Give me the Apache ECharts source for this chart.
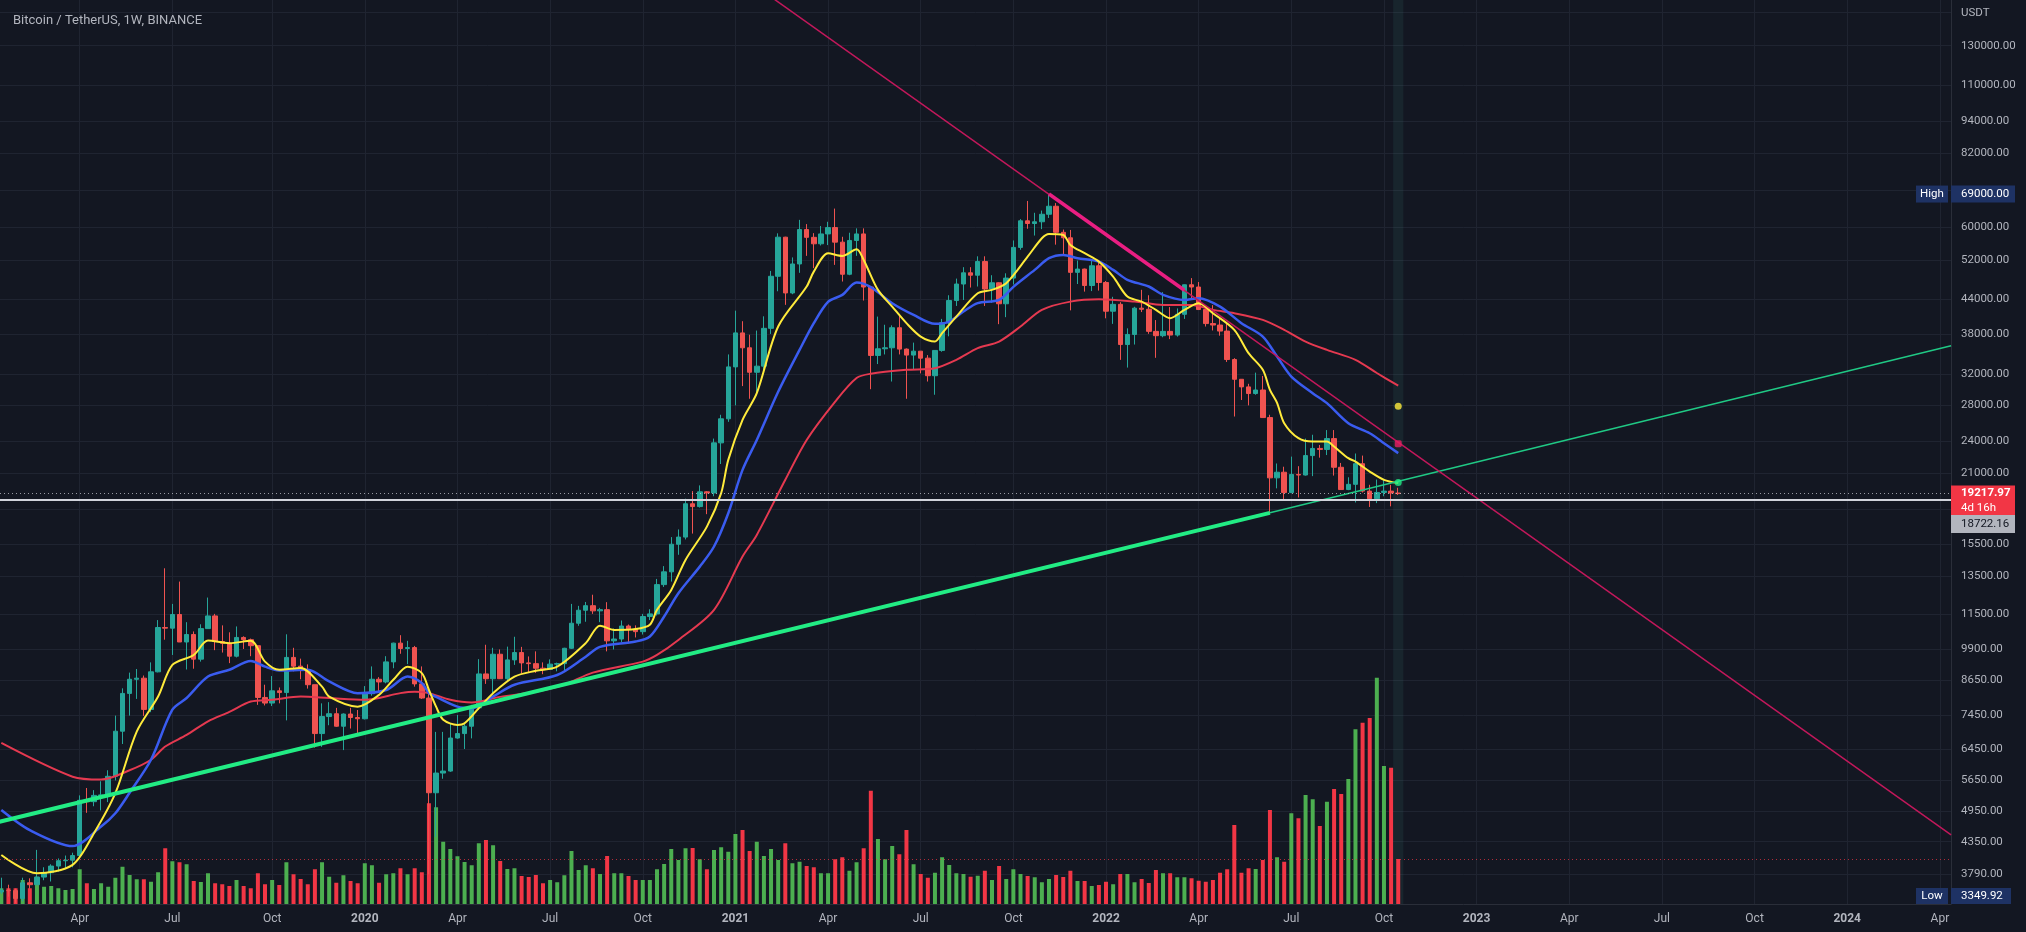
<!DOCTYPE html>
<html>
<head>
<meta charset="utf-8">
<title>Bitcoin / TetherUS, 1W, BINANCE</title>
<script src="https://cdn.jsdelivr.net/npm/echarts@6/dist/echarts.min.js"></script>
<style>
  html, body { margin: 0; padding: 0; background: #131722; }
  #chart { width: 2026px; height: 932px; }
</style>
</head>
<body>
<div id="chart"></div>
<script>
// weekly bars, first one opens on this Monday
const firstWeek = '2019-01-14';

// [open, high, low, close]
const ohlc2019 = [
  [3510,3730,3480,3535],[3535,3620,3440,3530],[3530,3560,3350,3414],[3414,3730,3373,3650],
  [3650,3720,3560,3620],[3620,4200,3620,3740],[3740,3900,3690,3810],[3810,3950,3670,3920],
  [3920,4050,3830,4010],[4010,4100,3880,4020],[4020,4150,3900,4100],[4100,5300,4080,5190],
  [5190,5470,4920,5160],[5160,5420,5060,5300],[5300,5630,4970,5310],[5310,5900,5150,5750],
  [5750,7450,5650,6970],[6970,8370,6600,8190],[8190,8950,7450,8700],[8700,9090,8000,8740],
  [8740,8840,7440,7650],[7650,9350,7560,8980],[8980,11200,8960,10850],[10850,13970,10300,10820],
  [10820,12000,9650,11470],[11470,13200,10370,10200],[10200,11100,9070,10530],[10530,10670,9100,9480],
  [9480,11000,9380,10800],[10800,12330,10800,11400],[11400,11500,9850,10220],[10220,10950,9750,10140],
  [10140,10630,9320,9600],[9600,10900,9550,10400],[10400,10450,9900,10300],[10300,10350,9600,10040],
  [10040,10050,7800,8050],[8050,8500,7780,7860],[7860,8820,7760,8280],[8280,8400,7850,8220],
  [8220,10540,7300,9550],[9550,9950,9000,9200],[9200,9500,8700,9040],[9040,9270,8360,8500],
  [8500,8500,6500,6900],[6900,7850,6520,7420],[7420,7890,7150,7510],[7510,7700,7100,7120],
  [7120,7520,6430,7500],[7500,7700,7050,7390],[7390,7630,6870,7350]
];
const ohlc2020 = [
  [7350,8450,7330,8180],[8180,9190,8110,8700],[8700,8780,8240,8600],[8600,9600,8550,9370],
  [9370,10170,9120,10150],[10150,10500,9700,9920],[9920,10250,9280,9960],[9960,10030,8430,8530],
  [8530,9190,8000,8030],[8030,8180,3782,5360],[5360,6950,4440,5830],[5830,6950,5690,5880],
  [5880,7200,5860,6770],[6770,7470,6750,6900],[6900,7200,6460,7120],[7120,7800,6760,7700],
  [7700,9480,7630,8900],[8900,10080,8530,8720],[8720,9950,8200,9680],[9680,9880,8800,8720],
  [8720,10000,8630,9450],[9450,10430,9250,9750],[9750,9990,8910,9330],[9330,9590,8950,9300],
  [9300,9800,8940,9120],[9120,9350,8890,9070],[9070,9470,9050,9280],[9280,9340,9000,9300],
  [9300,9950,9030,9930],[9930,12000,9900,11050],[11050,11900,10930,11680],[11680,12100,11120,11910],
  [11910,12480,11500,11650],[11650,11800,11100,11710],[11710,12090,9800,10250],[10250,10800,9880,10330],
  [10330,11180,10200,10920],[10920,10990,10140,10770],[10770,10950,10400,10660],[10660,11500,10530,11370],
  [11370,11730,11200,11500],[11500,13350,11420,13030],[13030,14100,12900,13760],[13760,15960,13200,15480],
  [15480,16490,14800,15960],[15960,18800,15800,18400],[18400,19420,16200,18180],[18180,19900,18100,19360],
  [19360,19420,17600,19270],[19270,24300,19000,23860],[23860,26900,21800,26440],[26440,34800,26100,33000]
];
const ohlc2021 = [
  [33000,41950,28000,38150],[38150,40100,30400,35800],[35800,37850,28800,32250],[32250,38530,29200,33100],
  [33100,40950,32300,38900],[38900,49700,37980,48580],[48580,58350,45570,57400],[57400,57500,43000,45240],
  [45240,52650,45000,51200],[51200,61800,49300,59300],[59300,60700,53000,57360],[57360,58400,50300,55800],
  [55800,60200,55400,58200],[58200,61300,55500,59800],[59800,64850,51000,56200],[56200,57500,47500,49000],
  [49000,58500,48800,56600],[56600,59600,53000,58200],[58200,59600,43800,46400],[46400,46600,30000,34650],
  [34650,40900,33400,35650],[35650,39500,34800,35800],[35800,39400,31000,39000],[39000,41300,34800,35600],
  [35600,35700,28800,34700],[34700,36600,32700,35290],[35290,35300,32100,34250],[34250,34700,31000,31780],
  [31780,35400,29300,35400],[35400,40500,35200,39850],[39850,44800,37600,43800],[43800,48100,42800,47000],
  [47000,50500,43900,49300],[49300,50500,46300,48800],[48800,52900,46500,51750],[51750,52900,42800,46000],
  [46000,48800,43400,47250],[47250,47350,39600,43200],[43200,49200,40800,48200],[48200,56600,46900,54950],
  [54950,62000,54400,61550],[61550,67000,59500,60850],[60850,63700,57800,61300],[61300,64300,59400,63300],
  [63300,69000,62300,65500],[65500,66400,55600,58600],[58600,59300,53300,57250],[57250,59200,42000,49400],
  [49400,51950,47000,50100],[50100,50200,45500,46700],[46700,51900,45600,50800],[50800,52100,45700,47300]
];
const ohlc2022 = [
  [47300,47600,40600,41850],[41850,44500,39650,43100],[43100,43500,34000,36300],[36300,38900,32900,37900],
  [37900,42650,36300,42400],[42400,45850,41700,42200],[42200,44800,38000,38400],[38400,40300,34300,37700],
  [37700,45400,37450,38400],[38400,42600,37150,37800],[37800,42350,37550,41300],[41300,46900,40500,46850],
  [46850,48200,44200,46400],[46400,47400,42100,42150],[42150,42400,39200,39700],[39700,42950,38550,39450],
  [39450,40800,37700,38450],[38450,40000,33700,34050],[34050,34250,26700,31300],[31300,31300,28650,30300],
  [30300,30700,28000,29450],[29450,32200,29300,29900],[29900,31750,26550,26580],[26580,26900,17622,20550],
  [20550,21850,19650,21050],[21050,21550,18650,19300],[19300,22500,19250,20850],[20850,21600,18900,20800],
  [20800,24300,20750,22600],[22600,24700,20700,23300],[23300,23650,22400,23200],[23200,25200,22650,24300],
  [24300,25200,20750,21500],[21500,21900,19800,19550],[19550,20600,19500,19990],[19990,22800,18500,21830],
  [21830,22600,19300,19420],[19420,19950,18150,18800],[18800,20400,18450,19310],[19310,20470,19000,19420],
  [19420,19950,18200,19260],[19260,19700,19100,19217.97]
];

// weekly volume, thousand BTC
const vol2019 = [126,126,126,192,126,218,138,144,126,112,120,278,166,120,166,138,210,298,232,198,
  198,178,254,446,342,334,318,184,176,246,166,158,144,192,144,126,246,158,192,152,
  334,238,200,158,278,334,218,170,230,184,166];
const vol2020 = [326,310,170,238,246,286,238,286,254,806,774,498,440,382,336,310,486,512,470,344,
  280,286,224,216,232,166,192,174,230,424,272,310,286,240,384,246,246,224,192,192,
  192,278,320,440,352,446,448,358,278,432,454,418];
const vol2021 = [560,592,424,498,384,440,352,486,326,338,304,294,246,246,358,374,266,334,446,906,
  520,358,464,398,592,318,240,210,250,374,312,246,240,218,226,266,192,304,200,278,
  240,224,214,174,200,232,216,266,184,184,144,152];
const vol2022 = [178,158,240,240,174,200,168,272,246,246,214,214,206,186,178,192,250,278,632,250,
  286,280,352,752,374,338,726,686,872,838,624,818,920,880,1000,1398,1450,1488,1810,1104,
  1090,360];

// moving averages: [week index, price]
const maFast = [[0,4110],[5,3800],[10,3940],[13,4510],[16,5350],[19,6960],[22,8080],[24,9250],[27,9650],
  [29,10260],[32,10150],[35,10250],[37,9380],[39,9060],[42,9130],[45,8430],[46,8080],[50,7740],[53,8140],
  [55,8680],[57,9180],[59,8930],[60,8310],[61,7740],[62,7320],[64,7160],[65,7210],[67,7690],[69,8200],
  [72,8800],[75,9020],[78,9180],[82,10150],[84,10930],[86,10740],[89,10780],[91,10980],[92,11700],
  [94,12740],[96,14480],[99,16690],[101,19250],[102,22190],[104,26320],[106,29500],[109,39200],
  [113,46500],[114,49560],[116,53600],[118,52980],[120,54520],[121,52090],[123,45840],[125,42680],
  [127,39770],[129,37560],[131,36770],[132,38110],[134,40900],[137,45190],[139,45840],[141,47170],
  [144,52820],[146,57140],[147,58200],[149,57950],[150,55530],[152,53600],[154,51710],[156,48500],
  [158,44540],[160,43600],[162,42090],[164,40620],[166,42090],[168,43310],[170,41500],[173,38650],
  [175,34990],[177,32590],[178,29920],[179,28300],[180,25950],[182,24340],[184,23990],[186,23990],
  [187,23490],[189,22350],[190,22030],[192,21110],[194,20380],[196,20100]];
const maMid = [[0,4980],[4,4570],[10,4270],[14,4640],[16,4910],[18,5360],[21,6170],[24,7640],[26,8030],
  [29,8800],[32,9060],[35,9410],[37,9180],[39,9030],[43,9060],[46,8620],[50,8200],[54,8310],[57,8800],
  [59,8560],[60,8200],[61,8070],[64,7740],[66,7690],[69,8080],[72,8500],[78,8860],[82,9580],[84,9990],
  [89,10220],[91,10440],[93,11370],[95,12560],[98,14070],[100,15330],[102,17670],[104,21260],
  [106,24160],[109,29670],[112,35480],[114,39770],[116,43550],[118,44870],[120,47290],[122,46370],
  [125,43310],[128,41200],[131,39650],[133,40040],[135,41790],[137,43310],[140,43920],[142,46430],
  [145,49920],[147,52470],[149,53220],[151,52470],[154,51710],[156,49920],[158,47850],[161,46500],
  [163,44870],[166,43920],[168,44240],[171,42680],[174,39770],[177,37560],[179,34480],[181,31670],
  [184,29500],[186,28270],[189,25950],[192,24860],[194,23830],[196,22840]];
const maSlow = [[0,6630],[10,5740],[14,5670],[18,5900],[21,6170],[23,6530],[26,6860],[29,7270],[32,7570],
  [35,7910],[38,7970],[42,8080],[46,8030],[51,7970],[56,8200],[58,8250],[60,8200],[63,7970],[66,7880],
  [70,8070],[75,8250],[79,8500],[83,8950],[90,9380],[92,9650],[95,10290],[100,11700],[104,14690],
  [106,16110],[110,20380],[113,24160],[117,28460],[120,31470],[122,32050],[127,32590],[131,32820],
  [134,34010],[137,35750],[140,36770],[143,39200],[146,42090],[150,43600],[154,44050],[159,43600],
  [163,42990],[167,42990],[170,42090],[173,41500],[177,40330],[180,38650],[183,36770],[186,35480],
  [190,34010],[193,32150],[196,30450]];

// drawn trend lines: [date, price]
const supportBold = [['2019-01-07', 4710], ['2022-06-13', 17700]];
const supportThin = [['2022-06-13', 17700], ['2024-04-12', 36100]];
const resistThin = [['2020-11-30', 198600], ['2024-04-12', 4480]];
const resistBold = [['2021-11-08', 69000], ['2022-03-21', 45760]];
const markerDots = [['2022-10-17', 27910, '#ffeb3b', 'circle'], ['2022-10-17', 23760, '#e91e63', 'roundRect'],
  ['2022-10-17', 20150, '#22ec84', 'circle']];

const lastPrice = 19217.97;
const levelPrice = 18722.16;
const highPrice = 69000;
const lowPrice = 3349.92;

const priceTicks = [130000,110000,94000,82000,60000,52000,44000,38000,32000,28000,24000,21000,
  15500,13500,11500,9900,8650,7450,6450,5650,4950,4350,3790];
const priceGridTicks = [150000,130000,110000,94000,82000,70000,60000,52000,44000,38000,32000,28000,
  24000,21000,18000,15500,13500,11500,9900,8650,7450,6450,5650,4950,4350,3790];
const timeTicks = ['2019-04-01','2019-07-01','2019-10-07','2020-01-06','2020-04-06','2020-07-06',
  '2020-10-05','2021-01-04','2021-04-05','2021-07-05','2021-10-04','2022-01-03','2022-04-04',
  '2022-07-04','2022-10-03','2023-01-02','2023-04-03','2023-07-03','2023-10-02','2024-01-01','2024-04-01'];

const DAY = 86400000;
const ts = s => +new Date(s + 'T00:00:00');
const t0 = ts(firstWeek);
const weekTime = i => t0 + i * 7 * DAY;
const xMin = +new Date('2019-01-12T17:00:00');
const xMax = +new Date('2024-04-11T22:00:00');
const yMin = 3334, yMax = 157950;

const UP = '#26a69a', DOWN = '#ef5350';
const VOL_UP = '#4caf50', VOL_DOWN = '#f23645';
const GRID = '#1f2431';
const TEXT = '#b2b5be';
const FONT = 'Roboto, "Noto Sans", sans-serif';
const MONTHS = ['Jan','Feb','Mar','Apr','May','Jun','Jul','Aug','Sep','Oct','Nov','Dec'];

const candles = [].concat(ohlc2019, ohlc2020, ohlc2021, ohlc2022);
const volume = [].concat(vol2019, vol2020, vol2021, vol2022);

const candleData = candles.map((c, i) => [weekTime(i), c[0], c[3], c[2], c[1]]);
const volData = volume.map((v, i) => ({
  value: [weekTime(i), v],
  itemStyle: { color: candles[i][3] >= candles[i][0] ? VOL_UP : VOL_DOWN }
}));
const maData = pts => pts.map(p => [weekTime(p[0]), p[1]]);
const lineData = pts => pts.map(p => [ts(p[0]), p[1]]);
const lastTime = weekTime(candles.length - 1);

function maLine(name, pts, color, width) {
  return {
    name, type: 'line', xAxisIndex: 0, yAxisIndex: 0, data: maData(pts),
    showSymbol: false, smooth: 0.3, silent: true, z: 3,
    lineStyle: { color, width }
  };
}
function trendLine(name, pts, color, width) {
  return {
    name, type: 'line', xAxisIndex: 0, yAxisIndex: 0, data: lineData(pts),
    showSymbol: false, silent: true, z: 4, clip: true,
    lineStyle: { color, width }
  };
}

const chart = echarts.init(document.getElementById('chart'), null, { renderer: 'canvas' });

const option = {
  backgroundColor: '#131722',
  animation: false,
  textStyle: { fontFamily: FONT },
  title: {
    text: 'Bitcoin / TetherUS, 1W, BINANCE', left: 8, top: 9,
    textStyle: { color: TEXT, fontSize: 13, fontWeight: 'normal', fontFamily: FONT }
  },
  grid: [
    { left: 0, right: 75, top: 0, bottom: 28, outerBoundsMode: 'none' },
    { left: 0, right: 75, top: 654, bottom: 28, outerBoundsMode: 'none' }
  ],
  xAxis: [
    {
      // time in ms on a linear axis so the tick positions can be given explicitly
      type: 'value', gridIndex: 0, min: xMin, max: xMax,
      axisLine: { show: true, lineStyle: { color: '#2a2e39' } },
      axisTick: { show: false, customValues: timeTicks.map(ts) },
      axisLabel: {
        customValues: timeTicks.map(ts), color: TEXT, fontSize: 12, margin: 9, fontFamily: FONT,
        formatter: v => {
          const d = new Date(v);
          return d.getMonth() === 0 ? '{y|' + d.getFullYear() + '}' : MONTHS[d.getMonth()];
        },
        rich: { y: { fontWeight: 'bold', color: TEXT, fontSize: 12, fontFamily: FONT } }
      },
      splitLine: { show: true, lineStyle: { color: GRID, width: 1 } }
    },
    { type: 'value', gridIndex: 1, min: xMin, max: xMax, show: false }
  ],
  yAxis: [
    { type: 'log', logBase: 10, gridIndex: 0, min: yMin, max: yMax, show: false },
    {
      type: 'value', gridIndex: 0, position: 'right',
      min: Math.log(yMin), max: Math.log(yMax),
      axisLine: { show: true, lineStyle: { color: '#2a2e39' } },
      axisTick: { show: false, customValues: priceGridTicks.map(Math.log) },
      axisLabel: {
        customValues: priceTicks.map(Math.log), color: TEXT, fontSize: 11.5, margin: 10,
        align: 'left', fontFamily: FONT,
        formatter: v => Math.exp(v).toFixed(2)
      },
      splitLine: { show: true, lineStyle: { color: GRID, width: 1 } }
    },
    { type: 'value', gridIndex: 1, min: 0, max: 2000, show: false }
  ],
  series: [
    {
      name: 'Volume', type: 'bar', xAxisIndex: 1, yAxisIndex: 2, data: volData,
      barWidth: 4, z: 1, silent: true,
      markLine: {
        silent: true, symbol: 'none', label: { show: false },
        lineStyle: { color: 'rgba(242,54,69,0.7)', type: [1, 3], width: 1 },
        data: [{ yAxis: volume[volume.length - 1] }]
      }
    },
    {
      name: 'BTCUSDT', type: 'candlestick', xAxisIndex: 0, yAxisIndex: 0,
      dimensions: ['time', 'open', 'close', 'lowest', 'highest'],
      encode: { x: 'time', y: ['open', 'close', 'lowest', 'highest'] },
      data: candleData, barWidth: 5, z: 2, silent: true,
      itemStyle: { color: UP, color0: DOWN, borderColor: UP, borderColor0: DOWN, borderWidth: 1 },
      markLine: {
        silent: true, symbol: 'none', label: { show: false },
        data: [
          { yAxis: levelPrice, lineStyle: { color: '#d1d4dc', width: 2, type: 'solid' } },
          { yAxis: lastPrice, lineStyle: { color: 'rgba(209,212,220,0.7)', width: 1, type: [1, 3] } }
        ]
      },
      markArea: {
        silent: true,
        itemStyle: { color: 'rgba(60,130,120,0.13)' },
        data: [[{ xAxis: lastTime - 5 * DAY }, { xAxis: lastTime + 5 * DAY }]]
      }
    },
    maLine('MA slow', maSlow, '#e53950', 2),
    maLine('MA mid', maMid, '#3a5cf0', 2.5),
    maLine('MA fast', maFast, '#ffeb3b', 2),
    trendLine('Support', supportBold, '#22ec84', 4),
    trendLine('Support ext', supportThin, '#20c985', 1.5),
    trendLine('Resistance', resistThin, '#c2185b', 1.5),
    trendLine('Resistance hl', resistBold, '#e91e82', 3.5),
    {
      name: 'Markers', type: 'scatter', xAxisIndex: 0, yAxisIndex: 0, z: 6, silent: true,
      data: markerDots.map(d => ({ value: [ts(d[0]), d[1]], symbol: d[3], itemStyle: { color: d[2] } })),
      symbolSize: 7
    }
  ]
};

chart.setOption(option);

// price tags on the right scale
const yPx = v => chart.convertToPixel({ yAxisIndex: 0 }, v);
const AX = 1951;
const plotBottom = 904;
const rect = (x, y, w, h, fill) => ({ type: 'rect', silent: true, z: 100, shape: { x, y, width: w, height: h }, style: { fill } });
const text = (x, y, str, fill, extra) => ({
  type: 'text', silent: true, z: 101, x, y,
  style: Object.assign({ text: str, fill, fontSize: 11.5, fontFamily: FONT, align: 'left', verticalAlign: 'middle' }, extra || {})
});

const yHigh = yPx(highPrice);
const yCur = yPx(lastPrice);
const yLow = Math.min(yPx(lowPrice), plotBottom - 8);
const TAG_BLUE = '#1e3264';

chart.setOption({
  graphic: [
    text(AX + 10, 13, 'USDT', TEXT),
    rect(1916, yHigh - 8.5, 32, 17, TAG_BLUE),
    text(1932, yHigh, 'High', '#ffffff', { align: 'center' }),
    rect(AX, yHigh - 8.5, 64, 17, TAG_BLUE),
    text(AX + 10, yHigh, '69000.00', '#ffffff'),
    rect(AX, yCur - 8, 64, 29.5, '#f23645'),
    text(AX + 10, yCur, '19217.97', '#ffffff', { fontWeight: 'bold' }),
    text(AX + 10, yCur + 14.5, '4d 16h', '#ffffff'),
    rect(AX, yCur + 21.5, 64, 18, '#b2b5be'),
    text(AX + 10, yCur + 30.5, '18722.16', '#131722'),
    rect(1916, yLow - 8, 32, 16, TAG_BLUE),
    text(1932, yLow, 'Low', '#ffffff', { align: 'center' }),
    rect(AX, yLow - 8, 60, 16, TAG_BLUE),
    text(AX + 10, yLow, '3349.92', '#ffffff')
  ]
});
</script>
</body>
</html>
